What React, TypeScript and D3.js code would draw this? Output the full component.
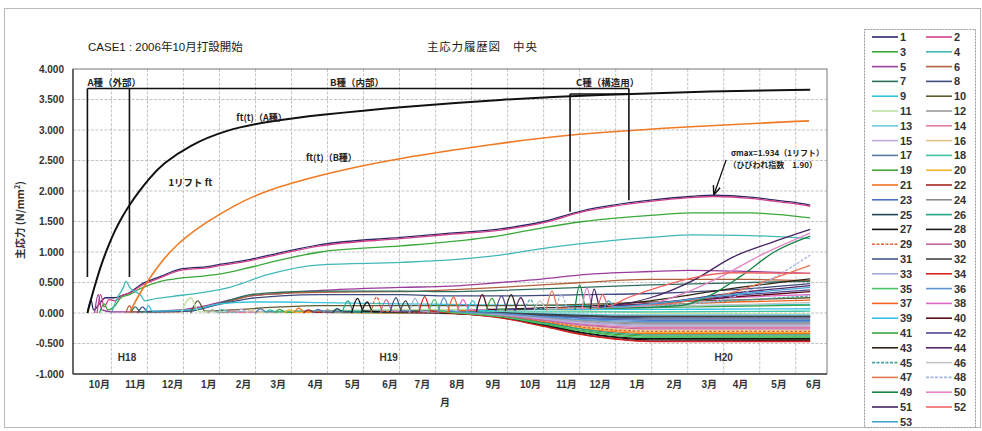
import React from 'react';
import * as d3 from 'd3';

type P = [number, number];

// ---- axis data ----
const yTicks = [4, 3.5, 3, 2.5, 2, 1.5, 1, 0.5, 0, -0.5, -1];
const gridDays = [0, 30, 60, 90, 120, 150, 180, 210, 240, 270, 300, 330, 360, 390, 420, 450, 480, 510, 540, 570];
const monthLabels = ['10月', '11月', '12月', '1月', '2月', '3月', '4月', '5月', '6月', '7月', '8月', '9月', '10月', '11月', '12月', '1月', '2月', '3月', '4月', '5月', '6月'];
const monthDays = [-10, 20, 51, 81, 110, 139, 170, 201, 232, 259, 288, 318, 349, 379, 407, 438, 469, 498, 524, 556, 585];
const eraLabels = ['H18', 'H19', 'H20'];
const eraDays = [13, 231, 510];

// ---- strength curves ----
const ftA: P[] = [[-20, 0], [-16, 0.3], [-12, 0.57], [-8, 0.82], [-3, 1.08], [3, 1.36], [9, 1.58], [15, 1.77], [22, 1.97], [32, 2.22], [43, 2.45], [65, 2.75], [95, 3.0], [130, 3.14], [174, 3.25], [241, 3.38], [324, 3.5], [407, 3.58], [491, 3.63], [582, 3.66]];
const ftB: P[] = [[15, 0], [22, 0.27], [30, 0.52], [40, 0.8], [50, 1.03], [62, 1.25], [80, 1.5], [102, 1.76], [127, 2.0], [174, 2.27], [241, 2.55], [324, 2.78], [374, 2.92], [491, 3.07], [581, 3.15]];

// ---- lift series (principal stress) ----
const L01: P[] = [[-20, 0], [-17, 0.22], [-15, 0.05], [-10, 0.15], [-5, 0.25], [2, 0.25], [8, 0.28], [15, 0.33], [24, 0.46], [41, 0.6], [57, 0.72], [66, 0.74], [80, 0.76], [91, 0.8], [116, 0.88], [141, 0.99], [174, 1.12], [241, 1.24], [282, 1.31], [324, 1.38], [360, 1.5], [393, 1.68], [449, 1.85], [482, 1.91], [502, 1.93], [532, 1.9], [549, 1.86], [566, 1.82], [582, 1.77]];
const L02: P[] = [[-12, 0], [-9, 0.3], [-6, 0.1], [-2, 0.22], [3, 0.2], [10, 0.3], [15, 0.32], [24, 0.44], [41, 0.58], [57, 0.7], [66, 0.72], [80, 0.74], [91, 0.78], [116, 0.86], [141, 0.97], [174, 1.1], [241, 1.22], [282, 1.29], [324, 1.36], [360, 1.48], [393, 1.66], [449, 1.83], [482, 1.89], [502, 1.91], [532, 1.88], [549, 1.84], [566, 1.8], [582, 1.75]];
const L03: P[] = [[-10, 0], [-6, 0.15], [-3, 0.05], [3, 0.12], [8, 0.25], [15, 0.3], [24, 0.4], [41, 0.52], [57, 0.57], [74, 0.6], [91, 0.64], [116, 0.75], [141, 0.87], [174, 1.0], [241, 1.1], [282, 1.17], [324, 1.27], [360, 1.4], [393, 1.5], [449, 1.6], [482, 1.64], [532, 1.64], [582, 1.56]];
const L04: P[] = [[0, 0], [5, 0.25], [10, 0.42], [12, 0.52], [16, 0.4], [20, 0.35], [24, 0.3], [28, 0.2], [33, 0.22], [50, 0.27], [74, 0.33], [100, 0.43], [130, 0.63], [174, 0.79], [241, 0.83], [282, 0.87], [324, 0.95], [360, 1.06], [393, 1.14], [449, 1.24], [482, 1.28], [532, 1.27], [582, 1.22]];
const L05: P[] = [[-14, 0], [-11, 0.3], [-8, 0.05], [0, 0.02], [20, 0.02], [57, 0.05], [74, 0.1], [100, 0.22], [116, 0.28], [141, 0.32], [174, 0.37], [241, 0.42], [282, 0.44], [324, 0.5], [360, 0.56], [393, 0.63], [449, 0.68], [482, 0.7], [532, 0.68], [582, 0.65]];
const L06: P[] = [[12, 0], [15, 0.12], [18, 0.02], [57, 0.02], [74, 0.08], [100, 0.2], [116, 0.28], [141, 0.32], [174, 0.34], [241, 0.35], [282, 0.38], [324, 0.42], [393, 0.5], [449, 0.55], [532, 0.55], [582, 0.53]];
const L07: P[] = [[16, 0], [20, 0.1], [24, 0.02], [57, 0.03], [80, 0.1], [100, 0.22], [116, 0.3], [141, 0.34], [174, 0.36], [241, 0.36], [282, 0.35], [324, 0.37], [393, 0.42], [449, 0.46], [532, 0.5], [582, 0.52]];
const L08: P[] = [[22, 0], [26, 0.1], [30, 0.02], [66, 0.03], [85, 0.12], [116, 0.24], [141, 0.28], [174, 0.3], [241, 0.3], [282, 0.28], [324, 0.28], [393, 0.3], [449, 0.32], [532, 0.4], [582, 0.48]];
const L09: P[] = [[28, 0], [31, 0.12], [34, 0.03], [66, 0.05], [90, 0.15], [116, 0.18], [141, 0.18], [174, 0.17], [241, 0.15], [282, 0.14], [324, 0.13], [393, 0.12], [449, 0.12], [532, 0.13], [582, 0.14]];
const L10: P[] = [[66, 0], [72, 0.2], [78, 0.03], [100, 0.05], [141, 0.1], [174, 0.12], [241, 0.12], [324, 0.12], [393, 0.14], [449, 0.18], [532, 0.22], [582, 0.25]];
const L11: P[] = [[58, 0], [66, 0.25], [73, 0.02], [100, 0.02], [174, 0.04], [241, 0.06], [324, 0.06], [393, 0.04], [449, 0.0], [582, -0.02]];
const L12: P[] = [[80, 0], [84, 0.05], [89, 0.01], [174, 0.02], [282, 0.01], [324, -0.02], [360, -0.07], [393, -0.12], [420, -0.15], [449, -0.16], [582, -0.16]];
const L13: P[] = [[88, 0], [92, 0.06], [97, 0.02], [174, 0.03], [282, 0.02], [324, 0.01], [360, -0.01], [393, -0.02], [420, -0.03], [449, -0.03], [582, -0.03]];
const L14: P[] = [[96, 0], [100, 0.04], [105, 0.01], [174, 0.01], [282, 0.0], [324, -0.04], [360, -0.11], [393, -0.18], [420, -0.22], [449, -0.24], [582, -0.24]];
const L15: P[] = [[104, 0], [108, 0.06], [113, 0.02], [174, 0.02], [282, 0.01], [324, -0.03], [360, -0.1], [393, -0.17], [420, -0.2], [449, -0.22], [582, -0.22]];
const L16: P[] = [[112, 0], [116, 0.05], [121, 0.01], [174, 0.01], [282, 0.0], [324, -0.04], [360, -0.13], [393, -0.21], [420, -0.26], [449, -0.28], [582, -0.28]];
const L17: P[] = [[120, 0], [124, 0.07], [129, 0.02], [174, 0.03], [282, 0.02], [324, -0.01], [360, -0.05], [393, -0.08], [420, -0.09], [449, -0.1], [582, -0.1]];
const L18: P[] = [[128, 0], [132, 0.05], [137, 0.02], [174, 0.03], [282, 0.03], [324, 0.02], [393, 0.02], [449, 0.02], [582, 0.03]];
const L19: P[] = [[136, 0], [140, 0.06], [145, 0.01], [174, 0.01], [282, 0.0], [324, -0.06], [360, -0.17], [393, -0.29], [420, -0.35], [449, -0.38], [582, -0.38]];
const L20: P[] = [[144, 0], [148, 0.05], [153, 0.01], [174, 0.01], [282, 0.0], [324, -0.05], [360, -0.14], [393, -0.24], [420, -0.29], [449, -0.32], [582, -0.32]];
const L21: P[] = [[152, 0], [156, 0.08], [161, 0.02], [200, 0.02], [282, 0.0], [324, -0.05], [360, -0.15], [393, -0.26], [420, -0.31], [449, -0.34], [582, -0.34]];
const L22: P[] = [[160, 0], [164, 0.05], [169, 0.01], [200, 0.01], [282, -0.01], [324, -0.07], [360, -0.21], [393, -0.35], [420, -0.42], [449, -0.46], [582, -0.45]];
const L23: P[] = [[168, 0], [172, 0.06], [177, 0.02], [220, 0.02], [282, 0.01], [324, -0.02], [360, -0.05], [393, -0.09], [420, -0.11], [449, -0.12], [582, -0.12]];
const L24: P[] = [[176, 0], [180, 0.05], [185, 0.01], [220, 0.01], [282, 0.0], [324, -0.03], [360, -0.08], [393, -0.14], [420, -0.17], [449, -0.18], [582, -0.18]];
const L25: P[] = [[184, 0], [188, 0.07], [193, 0.02], [240, 0.02], [282, 0.01], [324, 0.0], [360, -0.02], [393, -0.04], [420, -0.05], [449, -0.05], [582, -0.05]];
const L26: P[] = [[192, 0], [197, 0.2], [202, 0.02], [240, 0.02], [282, 0.0], [324, -0.05], [360, -0.16], [393, -0.27], [420, -0.33], [449, -0.36], [582, -0.36]];
const L27: P[] = [[200, 0], [205, 0.24], [210, 0.03], [240, 0.02], [282, 0.0], [324, -0.06], [360, -0.19], [393, -0.32], [420, -0.39], [449, -0.42], [582, -0.42]];
const L28: P[] = [[208, 0], [213, 0.18], [218, 0.02], [250, 0.02], [282, 0.0], [324, -0.07], [360, -0.2], [393, -0.33], [420, -0.4], [449, -0.44], [582, -0.44]];
const L29: P[] = [[216, 0], [221, 0.26], [226, 0.03], [250, 0.02], [282, 0.01], [324, -0.04], [360, -0.14], [393, -0.23], [420, -0.28], [449, -0.3], [582, -0.3]];
const L30: P[] = [[224, 0], [229, 0.22], [234, 0.03], [260, 0.02], [282, 0.01], [324, -0.04], [360, -0.12], [393, -0.2], [420, -0.24], [449, -0.26], [582, -0.26]];
const L31: P[] = [[232, 0], [237, 0.25], [242, 0.03], [260, 0.03], [282, 0.02], [324, 0.0], [360, -0.04], [393, -0.06], [420, -0.07], [449, -0.08], [582, -0.08]];
const L32: P[] = [[240, 0], [245, 0.2], [250, 0.03], [270, 0.03], [282, 0.02], [324, 0.0], [360, -0.03], [393, -0.05], [420, -0.06], [449, -0.06], [582, -0.06]];
const L33: P[] = [[248, 0], [253, 0.24], [258, 0.03], [270, 0.02], [282, 0.01], [324, -0.03], [360, -0.09], [393, -0.15], [420, -0.18], [449, -0.2], [582, -0.2]];
const L34: P[] = [[256, 0], [261, 0.27], [266, 0.03], [276, 0.01], [290, -0.01], [324, -0.08], [360, -0.22], [393, -0.36], [420, -0.43], [449, -0.47], [582, -0.47]];
const L35: P[] = [[264, 0], [269, 0.22], [274, 0.03], [282, 0.01], [290, 0.0], [324, -0.06], [360, -0.18], [393, -0.3], [420, -0.37], [449, -0.4], [582, -0.4]];
const L36: P[] = [[272, 0], [277, 0.25], [282, 0.04], [290, 0.02], [324, -0.01], [360, -0.06], [393, -0.11], [420, -0.13], [449, -0.14], [582, -0.14]];
const L37: P[] = [[280, 0], [285, 0.26], [290, 0.04], [324, 0.05], [393, 0.08], [449, 0.13], [516, 0.18], [582, 0.21]];
const L38: P[] = [[288, 0.02], [293, 0.22], [298, 0.05], [324, 0.06], [393, 0.1], [449, 0.16], [516, 0.25], [582, 0.3]];
const L39: P[] = [[296, 0.02], [301, 0.2], [306, 0.04], [324, 0.05], [393, 0.06], [449, 0.06], [582, 0.07]];
const L40: P[] = [[304, 0.02], [309, 0.3], [314, 0.06], [360, 0.08], [393, 0.1], [449, 0.15], [516, 0.26], [582, 0.35]];
const L41: P[] = [[312, 0.03], [317, 0.24], [322, 0.06], [360, 0.07], [449, 0.09], [516, 0.11], [582, 0.13]];
const L42: P[] = [[320, 0.03], [325, 0.28], [330, 0.06], [360, 0.08], [449, 0.14], [516, 0.28], [582, 0.38]];
const L43: P[] = [[328, 0.03], [333, 0.3], [338, 0.07], [360, 0.08], [449, 0.2], [516, 0.4], [582, 0.56]];
const L44: P[] = [[336, 0.03], [341, 0.25], [346, 0.07], [393, 0.08], [449, 0.15], [516, 0.32], [582, 0.45]];
const L45: P[] = [[344, 0.04], [349, 0.22], [354, 0.07], [393, 0.08], [449, 0.12], [516, 0.2], [582, 0.28]];
const L46: P[] = [[352, 0.04], [357, 0.2], [362, 0.07], [393, 0.08], [449, 0.1], [582, 0.17]];
const L47: P[] = [[362, 0.04], [367, 0.36], [372, 0.08], [424, 0.1], [482, 0.2], [516, 0.33], [549, 0.55], [582, 0.78]];
const L48: P[] = [[370, 0.05], [375, 0.3], [380, 0.08], [424, 0.1], [482, 0.15], [518, 0.26], [549, 0.55], [582, 0.95]];
const L49: P[] = [[386, 0.05], [390, 0.46], [395, 0.1], [424, 0.08], [474, 0.12], [500, 0.3], [524, 0.6], [552, 1.0], [582, 1.26]];
const L50: P[] = [[392, 0.06], [396, 0.41], [401, 0.1], [424, 0.1], [441, 0.12], [474, 0.3], [508, 0.6], [541, 0.95], [582, 1.31]];
const L51: P[] = [[399, 0.06], [402, 0.39], [407, 0.1], [424, 0.14], [449, 0.25], [485, 0.54], [518, 0.92], [549, 1.15], [582, 1.37]];
const L52: P[] = [[405, 0.06], [409, 0.3], [414, 0.12], [430, 0.25], [460, 0.45], [490, 0.6], [516, 0.66], [582, 0.65]];
const L53: P[] = [[410, 0.06], [414, 0.2], [419, 0.1], [449, 0.15], [516, 0.3], [582, 0.42]];

const liftSeries: P[][] = [L01, L02, L03, L04, L05, L06, L07, L08, L09, L10, L11, L12, L13, L14, L15, L16, L17, L18, L19, L20, L21, L22, L23, L24, L25, L26, L27, L28, L29, L30, L31, L32, L33, L34, L35, L36, L37, L38, L39, L40, L41, L42, L43, L44, L45, L46, L47, L48, L49, L50, L51, L52, L53];
const liftNames = liftSeries.map((_, i) => String(i + 1));
const liftColors = [
  '#2b2a6a', '#d04088', '#3aa83a', '#40b8b8', '#9a3c9c', '#b0603a', '#2e6e5e', '#3e4a7e', '#38c4dc', '#5e5a2e',
  '#bfe0a8', '#9a9a9a', '#6cccdc', '#e27a9a', '#c4a6d8', '#e4c68a', '#5a78a8', '#3cc4a4', '#4aa43a', '#f2b430',
  '#f07424', '#a82424', '#4a74c4', '#8a8a8a', '#1c4656', '#24a484', '#101010', '#1a1a1a', '#e26234', '#c464a8',
  '#46548a', '#444444', '#a8a8d8', '#d42424', '#46c466', '#5a96d4', '#f26424', '#e064c4', '#34c0e4', '#5c0a14',
  '#34a444', '#544494', '#2e2414', '#542464', '#44a4a4', '#c4c4c4', '#e47454', '#a4b4e4', '#148444', '#e484c4',
  '#442464', '#f26464', '#44a4d4',
];
const dashedLifts = ['29', '45', '48'];

// ---- lift-zone brackets (day, value) ----
const zoneTop = 3.68;
const zoneCTop = 3.59;
const zoneDays = [-20, 15, 382, 431];
const zoneBottoms = [0.59, 0.59, 1.66, 1.85];

const LAT = "'Liberation Sans', 'Noto Sans CJK JP', Arial, sans-serif";
const JP = "'Noto Sans CJK JP', 'Liberation Sans', sans-serif";

export default function App() {
  const x = d3.scaleLinear().domain([-32, 596]).range([73, 827]);
  const y = d3.scaleLinear().domain([-1, 4]).range([374, 69]);
  const line = d3.line<P>().x(d => x(d[0])).y(d => y(d[1])).curve(d3.curveMonotoneX);
  const smooth = d3.line<P>().x(d => x(d[0])).y(d => y(d[1])).curve(d3.curveBasis);

  const legendX = [872, 926];
  const legendY0 = 37;
  const legendDy = 14.8;

  return (
    <div style={{ position: 'absolute', left: 0, top: 0, width: 982, height: 431, background: '#fff' }}>
      <svg width={982} height={431} style={{ display: 'block' }}>
        <rect x={0} y={0} width={982} height={431} fill="#fff" />
        <rect x={4.5} y={8.5} width={976} height={419} fill="none" stroke="#b8b8b8" strokeWidth={1} />

        {/* titles */}
        <text x={88} y={51} fontFamily={LAT} fontSize={11.5} fill="#1a1a1a">CASE1 : 2006年10月打設開始</text>
        <text x={427} y={51} fontFamily={JP} fontSize={11.5} fill="#1a1a1a" letterSpacing={0.8}>主応力履歴図　中央</text>

        {/* grid */}
        <g>
          {gridDays.map(d => (
            <line key={'gx' + d} x1={x(d)} x2={x(d)} y1={y(4)} y2={y(-1)} stroke="#b4b4b4" strokeWidth={0.8} strokeDasharray="3,1.5" />
          ))}
          {yTicks.filter(v => v > -1 && v < 4).map(v => (
            <line key={'gy' + v} x1={x(-32)} x2={x(596)} y1={y(v)} y2={y(v)} stroke="#b4b4b4" strokeWidth={0.8} strokeDasharray="3,1.5" />
          ))}
        </g>

        {/* plot frame */}
        <rect x={x(-32)} y={y(4)} width={x(596) - x(-32)} height={y(-1) - y(4)} fill="none" stroke="#777" strokeWidth={1} />
        <line x1={x(-32)} x2={x(-32)} y1={y(4)} y2={y(-1)} stroke="#444" strokeWidth={1.4} />
        <line x1={x(-32)} x2={x(596)} y1={y(-1)} y2={y(-1)} stroke="#444" strokeWidth={1.4} />

        {/* y ticks */}
        {yTicks.map(v => (
          <text key={'yt' + v} x={64} y={y(v) + 3.5} textAnchor="end" fontFamily={LAT} fontSize={10} fontWeight="bold" fill="#333">{v.toFixed(3)}</text>
        ))}
        {/* x month labels */}
        {monthLabels.map((m, i) => (
          <text key={'mx' + i} x={x(monthDays[i])} y={388} textAnchor="middle" fontFamily={LAT} fontSize={10} fontWeight="bold" fill="#333">{m}</text>
        ))}
        {eraLabels.map((e, i) => (
          <text key={'era' + i} x={x(eraDays[i])} y={361} textAnchor="middle" fontFamily={LAT} fontSize={10} fontWeight="bold" fill="#333">{e}</text>
        ))}
        <text x={445} y={406} textAnchor="middle" fontFamily={JP} fontSize={10} fontWeight="bold" fill="#333">月</text>
        <text transform="translate(24,220) rotate(-90)" textAnchor="middle" fontFamily={JP} fontSize={10.5} fontWeight="bold" fill="#333">
          主応力 (N/mm<tspan dy={-4} fontSize={7}>2</tspan><tspan dy={4}>)</tspan>
        </text>

        {/* lift series */}
        <g fill="none">
          {liftSeries.map((s, i) => (
            <path key={'s' + i} d={line(s) || ''} stroke={liftColors[i]} strokeWidth={1.3}
              strokeDasharray={dashedLifts.includes(liftNames[i]) ? '3,1.5' : undefined} />
          ))}
        </g>

        {/* strength curves */}
        <path d={smooth(ftB) || ''} fill="none" stroke="#f07a24" strokeWidth={1.6} />
        <path d={smooth(ftA) || ''} fill="none" stroke="#111" strokeWidth={2} />

        {/* zone brackets */}
        <g stroke="#111" strokeWidth={1.6} fill="none">
          <line x1={x(zoneDays[0])} x2={x(zoneDays[3])} y1={y(zoneTop)} y2={y(zoneTop)} />
          <line x1={x(zoneDays[2])} x2={x(zoneDays[3])} y1={y(zoneCTop)} y2={y(zoneCTop)} />
          <line x1={x(zoneDays[0])} x2={x(zoneDays[0])} y1={y(zoneTop)} y2={y(zoneBottoms[0])} />
          <line x1={x(zoneDays[1])} x2={x(zoneDays[1])} y1={y(zoneTop)} y2={y(zoneBottoms[1])} />
          <line x1={x(zoneDays[2])} x2={x(zoneDays[2])} y1={y(zoneCTop)} y2={y(zoneBottoms[2])} />
          <line x1={x(zoneDays[3])} x2={x(zoneDays[3])} y1={y(zoneTop)} y2={y(zoneBottoms[3])} />
        </g>
        <text x={x(-20)} y={y(3.72)} fontFamily={JP} fontSize={9.5} fontWeight="bold" fill="#222">A種（外部）</text>
        <text x={x(182)} y={y(3.72)} fontFamily={JP} fontSize={9.5} fontWeight="bold" fill="#222">B種（内部）</text>
        <text x={x(387)} y={y(3.72)} fontFamily={JP} fontSize={9.5} fontWeight="bold" fill="#222">C種（構造用）</text>

        <text x={x(104)} y={y(3.15)} fontFamily={JP} fontSize={9} fontWeight="bold" fill="#222">ft(t)（A種）</text>
        <text x={x(162)} y={y(2.49)} fontFamily={JP} fontSize={9} fontWeight="bold" fill="#222">ft(t)（B種）</text>
        <text x={x(47.5)} y={y(2.08)} fontFamily={JP} fontSize={9.5} fontWeight="bold" fill="#222">1リフト ft</text>

        <text x={x(516)} y={y(2.57)} fontFamily={JP} fontSize={8} fontWeight="bold" fill="#222">σmax=1.934（1リフト）</text>
        <text x={x(514)} y={y(2.37)} fontFamily={JP} fontSize={8} fontWeight="bold" fill="#222">（ひびわれ指数　1.90）</text>
        <defs>
          <marker id="arr" viewBox="0 0 10 10" refX={9} refY={5} markerWidth={7} markerHeight={7} orient="auto">
            <path d="M0,1 L10,5 L0,9" fill="none" stroke="#111" strokeWidth={1.6} />
          </marker>
        </defs>
        <line x1={x(512)} y1={y(2.51)} x2={x(502)} y2={y(1.95)} stroke="#111" strokeWidth={1.3} markerEnd="url(#arr)" />

        {/* legend */}
        <rect x={864.5} y={29.5} width={111} height={398} fill="#fff" stroke="#999" strokeWidth={1} strokeDasharray="2,1" />
        {liftNames.map((n, i) => {
          const col = i % 2;
          const row = Math.floor(i / 2);
          const ly = legendY0 + row * legendDy;
          const lx = legendX[col];
          return (
            <g key={'lg' + n}>
              <line x1={lx} x2={lx + 26} y1={ly} y2={ly} stroke={liftColors[i]} strokeWidth={1.6}
                strokeDasharray={dashedLifts.includes(n) ? '3,1.5' : undefined} />
              <text x={lx + 28} y={ly + 4} fontFamily={LAT} fontSize={11} fontWeight="bold" fill="#333">{n}</text>
            </g>
          );
        })}
      </svg>
    </div>
  );
}
